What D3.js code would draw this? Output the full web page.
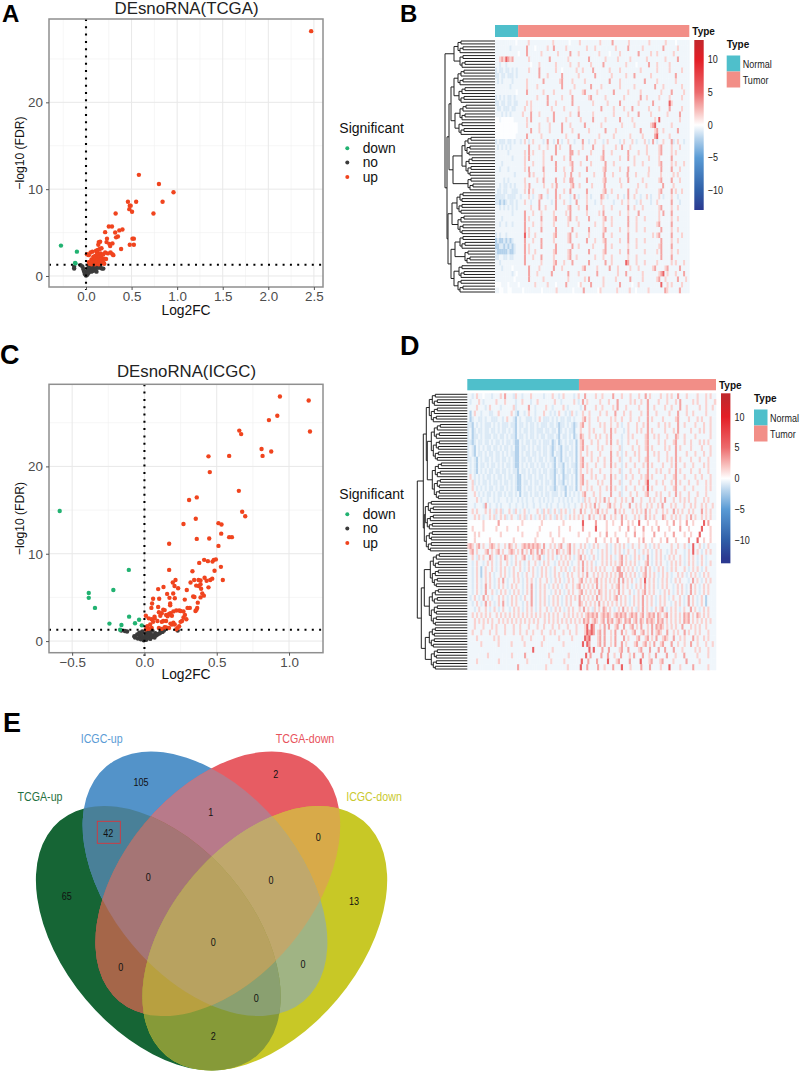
<!DOCTYPE html>
<html><head><meta charset="utf-8">
<script src="https://cdn.jsdelivr.net/npm/d3@7"></script>
<style>html,body{margin:0;padding:0;background:#fff}svg{display:block}text{font-family:"Liberation Sans",Arial,sans-serif}</style>
</head><body><svg id="c" width="800" height="1072"></svg>
<script>
// ---------- volcano data (Log2FC, -log10 FDR)
const tcgaDown=[[-.275,3.5],[-.1,2.8],[-.12,1.5],[-.115,1.45]];
const tcgaNo=[[-.13,1.05],[-.13,.85],[-.06,1.25],[-.04,1.1],[-.03,.8],[-.02,.55],[-.015,.35],[-.01,.2],[0,.05],[0,.15],[.005,.3],[.01,.1],[.015,.45],[.02,.25],[.02,.65],[.025,.9],[.03,.4],[.03,1.15],[.035,.75],[.04,.55],[.04,1.0],[.05,.7],[.05,1.25],[.055,.9],[.06,.5],[.065,1.1],[.07,.8],[.075,1.25],[.08,.6],[.085,1.0],[.09,.9],[.095,1.2],[.1,.75],[.105,1.05],[.115,.5],[.12,1.2],[.13,.95],[.14,1.05],[.15,1.2],[.16,.95],[.175,.85],[.19,.85]];
const tcgaUp=[[2.47,28.2],[.58,11.65],[.8,10.6],[.96,9.65],[.46,8.55],[.55,8.55],[.84,8.55],[.48,8.1],[.49,8.1],[.475,7.7],[.505,7.4],[.325,7.2],[.74,7.2],[.25,5.7],[.285,5.7],[.21,5.05],[.32,5],[.365,5.25],[.4,5.35],[.33,4.45],[.35,4.55],[.23,4.3],[.51,4.3],[.525,4.3],[.14,3.9],[.155,3.95],[.225,3.9],[.255,3.7],[.29,3.75],[.265,3.45],[.135,3.6],[.385,3.1],[.48,3.6],[.525,3.6],[.01,2.5],[.03,2.4],[.05,2.7],[.07,2.8],[.11,2.9],[.12,2.7],[.13,3],[.15,3.1],[.17,3.2],[.08,2.2],[.1,2.3],[.12,2.4],[.14,2.5],[.16,2.6],[.13,2.1],[.15,2.2],[.17,2.3],[.19,2.5],[.21,2.7],[.24,2.6],[.27,2.7],[.29,2.5],[.3,2.4],[.06,1.9],[.08,1.8],[.1,1.95],[.12,1.85],[.14,1.9],[.16,1.8],[.18,1.9],[.2,2],[.22,1.95],[.03,1.6],[.05,1.55],[.07,1.6],[.09,1.5],[.11,1.55],[.13,1.5],[.15,1.6],[.17,1.45],[.19,1.6],[.2,1.4],[.04,1.4],[.06,1.35],[.1,1.35],[.14,1.35]];
const icgcDown=[[-.586,14.9],[-.108,8.15],[-.215,5.85],[-.385,5.5],[-.385,4.95],[-.342,3.8],[-.106,2.8],[-.037,2.45],[-.065,2.05],[-.242,2],[-.159,1.85],[-.018,1.8],[-.168,1.3]];
const icgcNo=[[-.16,1.2],[-.135,1.15],[-.12,1.1],[-.07,.55],[-.065,.4],[-.05,.75],[-.045,.3],[-.035,.95],[-.03,.55],[-.025,.2],[-.02,.7],[-.015,1.1],[-.01,.4],[-.005,.1],[0,.25],[.005,.55],[.01,.9],[.012,.15],[.02,.35],[.02,1.2],[.025,.7],[.03,.5],[.035,1.05],[.04,.25],[.045,.8],[.05,.45],[.055,1.2],[.06,.6],[.07,.4],[.075,.9],[.08,.65],[.09,.75],[.1,.85],[.11,.95],[.115,1.15],[.125,1.05],[.135,1.2],[.23,1.2]];
const icgcUp=[[.937,28],[1.136,27.55],[.919,25.8],[.861,25.3],[1.145,24],[.656,24.1],[.669,23.7],[.81,22],[.877,21.7],[.817,21.2],[.443,21.15],[.586,21.2],[.452,19.35],[.653,17.2],[.362,16.45],[.309,16.15],[.676,14.8],[.697,14.3],[.355,14],[.27,13.4],[.512,13.5],[.533,13.35],[.531,12.3],[.362,11.7],[.448,11.75],[.586,11.9],[.605,11.9],[.171,11.15],[.512,10.9],[.413,9.3],[.439,9.15],[.471,9.1],[.48,9.3],[.494,9.35],[.379,8.95],[.529,8.5],[.485,8.05],[.332,8],[.171,8.15],[.542,7],[.469,7.15],[.455,7],[.416,7.25],[.43,6.9],[.374,7],[.388,6.95],[.344,7],[.319,6.7],[.215,7],[.196,6.7],[.208,6.3],[.233,6.05],[.358,6.35],[.376,6.3],[.388,6.5],[.443,6.15],[.392,6],[.132,6.2],[.095,5.95],[.293,5.85],[.199,5.45],[.157,5.4],[.4,5.45],[.411,5.2],[.388,5],[.337,5.1],[.346,5.05],[.06,4.85],[.102,4.85],[.173,4.95],[.21,4.9],[.279,4.75],[.369,4.4],[.053,4.3],[.178,4.3],[.178,4.1],[.048,3.8],[.095,3.9],[.298,3.8],[.314,3.8],[.365,3.8],[.353,3.45],[.36,3.6],[.01,2.9],[.03,2.6],[.05,2.5],[.07,2.8],[.07,2.6],[.1,3.3],[.09,2.3],[.11,2.9],[.12,3.2],[.13,3.6],[.14,3.55],[.15,3],[.16,2.85],[.17,3.1],[.18,3.2],[.19,2.9],[.2,3.4],[.22,3.5],[.24,3.5],[.25,3.45],[.27,3.4],[.28,3],[.27,2.7],[.29,2.5],[.25,2.2],[.26,2.3],[.12,2.2],[.13,2.3],[.15,2.3],[.18,2],[.19,1.9],[.2,2.1],[.21,1.9],[.24,1.7],[.23,1.5],[.22,1.35],[.1,1.5],[.12,1.4],[.14,1.6],[.15,1.55],[.17,1.5],[.04,1.9],[.02,1.7],[.03,1.4],[.05,1.5],[.06,2.2],[.01,1.35]];
const sigLevels=["down","no","up"];
const sigColors=["#21b271","#3b3b3b","#f0441e"];
const fdrCut=1.3;

// ---------- heatmaps: levels read by eye, one character per cell
const levelKeys=["=","-",".","o","+","*","#"];
const levelVals=[-2.1,-.95,-.4,-.05,1.5,3,5.5];
const heatB=[
"..........o.....+...........+.......o....+.........+.....*.......+.........+.......+....o......",
".......-.......*...o.....+..*.....+.........+...+.........+.....*......+.........*......+.....",
"...........o...*......+.......+.....*...+.........+....o....+........*.....+..+.......+.......",
"..+*+#*+*.......+.........*........+.........*.......+.....+.....+.......+........+.....*.....",
"..-..-...........o...+.......+......+...+.....+.....*..........+....o.....*...+.....+.........",
"-.--.--.-.-.....+....*.......+..o......+..+....*.......+....+.........+.......+.....+.....+...",
"--.--.---.-..........*...+......*.......+.......*.......+......+...*.......+...........*......",
".-.-....-......+.......*.......+*....+.....+...........*....+...........*.....+........+......",
".......-.......+....+...........*.....+.......*....+........+......+.........*...+........+...",
"..........o....*.......+....+.......+.....+*.....+.......*......+.....+.........+....*.....+..",
"-.-.-.--.-..........+....*......+....*.......+*......+........+.......*..+.....+....+.....+...",
"--.--.--.--....+.+.......*...+.......*.........+......+.....*........+......*.......#+........",
".--.---.--....+..+.........+.....+......+..........*.....+....+...*.......+....+....*.....+...",
"...-.-.-.....+...*...+......*.......+...*......+.........+......+....*.....+.......+.....*....",
"oo.oooooo......+.*.......+..*.....+......+.....*.....+......*.....+..........+.#.........+....",
"ooooooooooo....+.....+....+.....*...+......*.......+.........+.....+.......+*#.......+........",
"ooooooooooo......*...+....+.....*....+.......+.......*....+...........*......+*..+......*.....",
"oooooooooo.....*......+...........+.....*.........+......+.......+.....+.....*#.....+.........",
"-.---.--.-..-.+.-.+....-.*..-.*.-..+..-...*..-..+...-.+.....-.+...+.-...+.-.*.-..+...*-.+..-..",
".-.-.-.-........*....+...+...*.+....*.....+....*....+.....+..*...+.......+.....+*....+...+....",
"......-.......+.*.+....+.....*......**..+.....+.....*...+.......*....+...+.....+*....+.+......",
"........-.....+.*......+...*.....+..*.......*......+*.......+...*..+......+....+.....*........",
"...-..........+...+....+.....*......+*...+....+......*...+.........+...+.......+*....+.+...+..",
"..-...-.......+.*......*.....*...+...*......*.......+*......+...*.........+.....*....*...+....",
".........-......*.+....+.........+..*...+......+....*...+......*...+.....+.....+.....+.+.....",
"....-.-.......+.....+..*.....*...+..**......*.......+*......+...*......+.......+*....*...+....",
"..-.--.-.-....+.*......+...+.*......+*..+.....+.....*.......+.......+...+.......*....+.......",
".--.--..---...+.*.+......+...*...+..*.......*.......+*..+.......*...+..........+*....*.+..+...",
"-----.----..-...+.-..+*..-...*.+....-.*.-...+.-....*+.-....+..-.*..+..-..+.-...+.-...+..-.....",
"--=-=-.--.-...+..-...*.....-.*...+..-..*....+...-..+.....-...+..+...-.+....-..+......*...-....",
"..-.-.-.-.-......+...*..+....*.....+*...+...*.......+...+.......*..+...+.......+*....+..+.....",
"........-.....*...+...+.....+.....+.*.......+.....+.*.......+...+....*.........+.*...*........",
"...-..........*.+.....*.....+*.....+*..+.....*......+*..+.......*...+...+......+.....+..+.....",
"..-..-..-.....*...+...+.....+......+....+.......+...+...+.......*...+.........+*.....*........",
"..............*.+.....*......*.......*.......*......+*......+...+...+...+.......*....+..+.....",
"-.-..-........#.+..+........+*.....+*..+.....+......*...+.......*...........+.+*.....*....+...",
"=-==-=-=-.....*...+...*.....+......+*.......*...+...+*......+...*...+...+.......*....+..+.....",
"==--=-=-=-....*.+.....*......*.......*..+......+.....*..+.......+...+..........+*....*........",
"-=====-==-....*.+..+........+*.....+*........*......+*......+...*.......+.....+.*....+..+.....",
"--..--.--.....*...+...*.....+......+*..+........+...+...+.......+...+...........*....*........",
"..-...........*.......+.....+*...+...*.......*.......*..+......#*...+...+.....+......+.+...+..",
"...-....o.......*....+......*...+.........+*.....+.....*...+.....+...+......+*....+*.....*....",
"........-.o.....*...+......*.......*....+........*.........+...*.......+.......+*#.+...+...*..",
".........o......*......+...........+.......+.*......+.....+......*.....+......+*..+.....*...+.",
"ooo...o....o.......+.....+...o....*.....o+....*.....+.......*.....o..+..........#..+.+....+...",
"..oo..oo.....o........o......+.......o....*......o+.......+.....+..o.....+.......*+.....*...."
];
const heatD=[
"..-.+..o...-...+.*...-+..-...+.....-...+..-.+....-.+..*....+..+....*...+...+...+..*.+....+..+.+..*...+....+...+.+..",
".-...+.-.....+...+....-..+...-..+.......+..-.....+.-.*.+.....+...+...*.....+.+..+..*....+...+...+.*.....+.+...+...+",
"....+...-.+....-.....+-.....*..-....+..-....+.-.....-.*....+..+....+.*...+.....+...*..+....+..+...*..+.....+..+..+.",
".=.+..-...--..+.....+.-=..-.+..-...+..-.-.+..-.-+.-..+..+....+..+...*...+..+....+..*...+.....+...*...+..+.....+....",
".=-..--.-..---..-.+..-=.-..---.-.+.---.-.-.--.--.-...+*.+...+.....+.+..+...+...+...*.+....+.....+*....+...+.+...+..",
"--=.-.-.---.-.-.---.--=.--.-.--.-.---.--.-=--.-.-=-.+*..+....+.+..+..+.-..+...+..+.*....+..+.+...*..+....+...+..+..",
"-.=-.--.--.--.-.--.-.-=.-.--.--.---.--.--.=-.-.--=..+...+.+....+..*.+...-.+...+.+..*.+.....+...+.*.....+...+.+..+..",
"-.=--.-.---.--.--.-.--=.--.-.--.-.--.---.-=.--.-.=-.*+..+..+.+..+.*....-..+.+.....+*..+.+...+...*+..+....+......+..",
"--=-.--.--.-.--.-.--.-==.-.--.--.-.---.=-.=-.-.--.=.+*...+..+...+.*..+.-..+...+...+*....+..+...+*...+..+...+.+.+...",
"-.-=.-.-.--.--.-.--.-.==.--.-.-.--.--.-=-.-=.--.-.=.+*.+....+.+...+...+-....+..+..+*.+.....+.+..*.+....+....+...+..",
"-.-=.--.-.--.--.-.-.--==.-.--.--.-.--.-=.--=.-.--.=.+..+.+...+....*..+.-.+...+.+...*..+.+...+...*....+...+...+..+..",
"--.-=.-.--.-.--.--.-.-==.--.--.-.--.-.--=.-=.--.-.=.+*...+..+..+..*...+-...+...+..+*....+...+.+.*.+....+...+...+...",
".-.-=.--.-.--.-.-.--.-==.-.-.--.-.--.-.-=.--=.-.--=.+*.+...+...+..*.+..-.+...+...+.*.+....+...+.*...+...+....+.+...",
".-.-=.-.-.--.--.--.-.--=.--.-.--.-.--.--=-.-=.--.-=.+..+.+...+....+...+-...+...+...*...+.+...+..*.+....+...+...+...",
".+.-.-.-.--.-.--.-.--.-==.-.--.-.--.-.--=.-.=--.-.=.+*...+.+...+..*.+..-.+..+...+.+*.+.....+...+*...+....+..+...+..",
"..+-.-.--.-.--.-.--.-.-==.--.-.--.-.--.-=.--=.-.-.=.+*.+....+.+...*...+-...+...+..+#...+..+...+.*.+...+...+...+.+..",
"..+.-.-.-.--.-.--.-.-.-==.-.--.-.--.-.--=-.--=.--.=.+..+.+...+..+.*.+..-.+...+...+.#.+.....+...+*...+...+.....+.+..",
"...+.-.-.--.-.--.-.--.-.=.--.-.--.-.--.---.-.=.-.-.-.+*...+..+....*...+-...+..+...+*...+.+...+..*.+...+...+...+....",
"....+.-..-..-.-...-.-..-.-.-..-..-.-.-.-..-.-.-.-..-.-+.+..+.+.*.+..+..+.+..*...+...+.+..+.*...+..+.+.+..+...+.+...",
"...-...-*.-..-.-...-..-..-.-..-..-..-.-..-..-.-..-..+.+.+.*.+...+*.+..+...*..+.+..+.+..+.*...+.+...+..+.+..+.+..+.",
"..+.+...+.+.-+.+-..+.-+.-.+.-...+.-+.+-.+.-+.+.-.+..*.+..+.+*.+.+...*.+.+...+.+.+.*.+..+..+.+..*.+.+..+.+...*.+.+..",
"...+.+.-..+.+-.+.+-.+..-+.+-.+.-.+.+-.+.-+.+.-.+.+.+.+..*.+..+.*..+.+..*.+...+.+..*.+.+...*+..+.+.+..+.*.+..+.+.+..",
"ooooooo+oooooo*oooooooooo+oooooooo+ooooooooo+oooooooo#ooooo*oooo+oo+ooo*oo+o+oo#ooo+ooo+oooo+oo*oo+oo*oo+oooo#o*ooo",
"oo+oooo+ooooo+oooo+oooo+ooooooooo+oooooooo+oooo+ooooo*ooooo#oooo+ooooo+ooo*oo+ooo*ooo+oo*oooo+oooo*ooo+ooooo#ooo+oo",
"ooo+o+ooooooooo+ooooooooo+oooooo+ooooo+ooo+oooooooo+oooo+oooo+oo*ooo+oooo+ooo*ooo+oooo*oooo+ooo*oooo+oo+ooo#oooo+oo",
"ooo+oooooo+oooooooooo+ooooooooo+ooooooo+oooo+oooooooooo+ooo*ooo+oo+oo*oooo+oooo+o*ooo+ooo+oo*ooo+ooooo*ooo#oo+oo+oo",
"+*+.+*.+..+*+.+..+.*+.+..+*+*+*+*+.*..+.+.+*..+*.+..+.+.-.+.+...+.-.+.+.+.-.+..+..+.-.+.+.....+..+..+.-.#..+.-.+...",
".+*.+...+*.+.+*.+..+*+.+.*.+.*+.*.*+.+.+.*+.+.+*.+.+.+.-.+..-.+.+.-.+.+.-.+..+.-.+.+.-.+.+..-.+.+...-.+.#.+.-.+.+..",
"..+.-+.+..*+.-.+.*+.-.+..+*.-.+.+*.-.+.+.-.+.+.+.-.+*.+.-.+.-.+.+.+.-.+*.+.-.+.+.-.*.-.+.+.-.+.+..+.-.+.+.-.+.-....",
"..-.+..-.+.+.-.+..+.-.+.+.-.+..+.-.+.+..-.+.+.+.-..+.*.+.+.-..+.+.+.+.+*.+.+.+.-..+*.-.+.+..-.+.+.+.-.+.+.-.+.-.+..",
"..-.+.=.+..+.-.+.+.-.+..+.-.+.+.-.+.+.-.+..+.+.-.+.+.*.+.+.+.+.+...+.**.+.+.+.-.+.*.+.-.+.+.-.+.+...+.-.+.+.-.+....",
"..-.+.=.+.+.-..+.+.-.+.+.-.+..+.-.+.+.-.+.+.-.+.+..+.+.*..+.+.+.+.+.+.**.+.+.+.-.+*.+.+.-.+.+.-..+.+.-.+.+.-.+.+...",
"..-.+.-.+.+.-.+.*.-..+.+.-.+.+.-.+..+.-.+.+.-.+.+..+*.+.+.+*.+.+.+.+.*.*.+.+.-.+.#.+.+.-.+.+.-.+.+...-.*.+.-.+.+..",
"..-.+.-.*.+.-.+.+.-.+.+..-.+.*.-.+.+.-.+.+.-.+..+.+*.+.+.+.*.+.+..+.+*.+.+.-.+.+.*.+.+.-.+.+..-.+.+.-.*.+.-.+.+...",
"..-.+.-.*..+.-.+.+.-.+.+.-.+.*.-.+.+..-.+.+.-.+.+..+*.+.+.+.*+.+.+.+.*.+..+.-.+.+*.+.+..-.+.+.-.+.+.-.*.+.-.+.+...",
".-.+.-.*.+.-..+.+.-.+.+.-.+..*.-.+.+.-.+.+.-.+.+.+.*.+.+.+.*.+.+.+.+*.+.+.-.+.+.*.+.+.-.+.+.-.+..+.-.*.+.-.+.=....",
"..-.+.-.*.+.-.+.*.-.+.+..-.+.*.-.+.+.-.+.+.-.+.+...*+.+.+.+.*.+.+.+.+.+.+.-.+.+.*.+.+.-.+.+..-.+.+.-.*.+.-.+.=....",
"...-.+..+.-.+.-.+..-.+.+.-.+.+.-.+..+.-.+.+.-.+.+..+.*.+.-+.+.*+.+.-.+.*.+.+.-+.*.+.-.+.+*.-.+.+.-.+..*.+.-.+.+...",
"..+.+.+.+.+..+.+.+.+.+.+.+.+.+.+.+.+.+.+.+..+.+.+.+.+.+*+*+*.+*+*+.+*+*+*.+*+*.+*.+*+*.*+.+*.+.+.+.*+*.+.*+.+.+...",
"...+.+.+.+.+..+.+.+.+.+.+.+.+.+.+..+.+.+.+.+.+.+.+.+.*+*.+*+.+*.*+*.+*+.*+*.+*.*+.*+*+.*+*.+.+.+.+.*+*.+.+.+.+.+..",
"...+...+...+.+...+...+..+...+...+..+...+..+...+...+...+#.#*..+.*.*..+*..*..+*.+.*..+.*.*+*+.+.+.+..*...+.+.+..+....",
"..+...+...+..+...+...+..+..+..+...+...+.+...+..+..+...+#*#*.+*.*..+.*..*.+..+*..+*.+.*.+*+..*..+.+..*.+..+.+...+...",
"....+.......+.+..........+...+.....+......+.....+.....#*#...+*.*..+.*...*.+...+*..+*.+.*..+*+..*..+.+...*.+..+.+...",
"......+.......+.....+.....+.......+.........+........#.#*...+*.*..+.*..*.+...+*..+*.+.*..+*...*..+..+..*..+...+..+.",
"..............................#........+................#.#...*..*....+*..*....+*...*...*..*...*...+.....+.+...+...",
".........+..........+.....*..........+........+.......#.*....*..*..+..*...+.*...*..+..*....*...+...*.....+....+...",
"....+.........+............+..........+.....+.......#..*...*....#...+*....*....#...+*...+*....+.....*.....+.......",
".......................*............+.........+.....#..*....*..+...*...#...+....*...*....+...#....+.....*......+..."
];
const heatTicks=[-10,-5,0,5,10];
const heatStops=[[-13,"#2b3990"],[-10,"#2f5fa8"],[-5,"#5a9bd5"],[-2,"#b6d3ec"],[0,"#ffffff"],[2,"#f8c3c0"],[5,"#ec6a6c"],[10,"#e31e26"],[13,"#c2282c"]];
const typeNames=["Normal","Tumor"];
const typeColors=["#4fbfcb","#f28e87"];
// dendrogram structure: [height, children…] or [height, leaf count]
const treeB=[50,[41,[37,5],[35,5]],[48,[46,[44,[41,[37,6],[36,6]],[40,[35,6],[36,5]]],[42,[33,[30,7],[29,7]],[27,5]]],[47,[43,[38,8],[37,7]],[44,[40,[35,5],[30,5]],[41,[36,5],[37,5]]]]]];
const treeD=[50,[44,[41,[38,11],[40,[36,14],[35,14]]],[43,[42,11],[41,8]]],[47,[46,[43,[37,13],[38,14]],[42,[38,8],[36,8]]]]];

// ---------- venn
const vennSets=["TCGA-up","ICGC-up","TCGA-down","ICGC-down"];
const vennLabelColors=["#1f7040","#5b9bd5","#e8525c","#c9c92e"];
const vennRegions=[["0",'#136534'],["1",'#5393c9'],["2",'#e75c64'],["3",'#c8c828'],["01",'#4a8098'],["12",'#b87a8a'],["02",'#a5664a'],["23",'#d8aa48'],["13",'#a0b484'],["03",'#869a38'],["012",'#a57574'],["123",'#c0a86c'],["013",'#8aa070'],["023",'#b8a040'],["0123",'#b8a260']];
const vennCounts=[["65",66.7,895.7],["105",141,782],["42",108.3,832.7],["2",275.7,774],["1",210.7,812.3],["0",318.3,836.7],["13",354,901],["0",148.3,876.7],["0",271,880],["0",213.3,942],["0",120.7,967.3],["0",303,964],["0",256.3,997.7],["2",213.3,1036]];

const svg=d3.select("#c");
const defs=svg.append("defs");
const addBlur=(id,s)=>defs.append("filter").attr("id",id).attr("x","-2%").attr("y","-2%").attr("width","104%").attr("height","104%").append("feGaussianBlur").attr("stdDeviation",s);
addBlur("soft",.45);addBlur("softer",.38);
const narrow=(sel,fx,fy)=>sel.attr("transform",(d,i)=>`translate(${fx(d,i)},${fy(d,i)}) scale(.82,1)`);

function volcano(c){
  const x=d3.scaleLinear().domain(c.xd).range([49,323]);
  const y=d3.scaleLinear().domain(c.yd).range([c.bottom,c.top]);
  const g=svg.append("g");
  g.selectAll(".mx").data(c.xMinor).join("line").attr("x1",x).attr("x2",x).attr("y1",c.top).attr("y2",c.bottom).attr("stroke","#f0f0f0").attr("stroke-width",.6);
  g.selectAll(".my").data(c.yMinor).join("line").attr("y1",y).attr("y2",y).attr("x1",49).attr("x2",323).attr("stroke","#f0f0f0").attr("stroke-width",.6);
  g.selectAll(".gx").data(c.xTicks).join("line").attr("x1",x).attr("x2",x).attr("y1",c.top).attr("y2",c.bottom).attr("stroke","#e8e8e8").attr("stroke-width",1);
  g.selectAll(".gy").data([0,10,20]).join("line").attr("y1",y).attr("y2",y).attr("x1",49).attr("x2",323).attr("stroke","#e8e8e8").attr("stroke-width",1);
  [c.no,c.up,c.down].forEach((pts,i)=>{
    const col=[sigColors[1],sigColors[2],sigColors[0]][i];
    g.append("g").selectAll("circle").data(pts).join("circle").attr("cx",d=>x(d[0])).attr("cy",d=>y(d[1])).attr("r",2.2).attr("fill",col);
  });
  g.append("line").attr("x1",x(0)).attr("x2",x(0)).attr("y1",c.top).attr("y2",c.bottom+3).attr("stroke","#000").attr("stroke-width",2.1).attr("stroke-dasharray","2 5.3");
  g.append("line").attr("x1",49).attr("x2",323).attr("y1",y(fdrCut)).attr("y2",y(fdrCut)).attr("stroke","#000").attr("stroke-width",2.1).attr("stroke-dasharray","2 5.3");
  g.append("rect").attr("x",49).attr("y",c.top).attr("width",274).attr("height",c.bottom-c.top).attr("fill","none").attr("stroke","#8f8f8f").attr("stroke-width",1.5);
  const ax=g.append("g").attr("transform",`translate(0,${c.bottom})`).call(d3.axisBottom(x).tickValues(c.xTicks).tickFormat(d3.format(".1f")).tickSize(3).tickPadding(1.5));
  const ay=g.append("g").attr("transform","translate(49,0)").call(d3.axisLeft(y).tickValues([0,10,20]).tickSize(3).tickPadding(3));
  [ax,ay].forEach(a=>{a.select(".domain").remove();a.selectAll("line").attr("stroke","#555");a.selectAll("text").attr("fill","#4d4d4d").attr("font-size",13.4).attr("font-family",'"Liberation Sans",Arial,sans-serif');});
  g.append("text").attr("x",186).attr("y",c.bottom+c.xlabOff).attr("text-anchor","middle").attr("font-size",13.8).attr("fill","#111").text("Log2FC");
  g.append("text").attr("transform",`translate(24,${(c.top+c.bottom)/2})  rotate(-90)`).attr("text-anchor","middle").attr("font-size",13).attr("textLength",73).attr("lengthAdjust","spacingAndGlyphs").attr("fill","#111").text("−log10 (FDR)");
  g.append("text").attr("x",186.5).attr("y",c.titleY).attr("text-anchor","middle").attr("font-size",15.8).attr("textLength",c.titleW).attr("lengthAdjust","spacingAndGlyphs").attr("fill","#222").text(c.title);
  g.append("text").attr("x",339.3).attr("y",c.legendY).attr("font-size",14).attr("fill","#111").text("Significant");
  sigLevels.forEach((s,i)=>{
    const yy=c.legendY+15.3+i*14.3;
    g.append("circle").attr("cx",347.3).attr("cy",yy).attr("r",2).attr("fill",sigColors[i]);
    g.append("text").attr("x",362.7).attr("y",yy+4.6).attr("font-size",13.8).attr("fill","#111").text(s);
  });
}
volcano({xd:[-.406,2.6],yd:[-1.27,29.6],top:19,bottom:287,xlabOff:27.5,xTicks:[0,.5,1,1.5,2,2.5],xMinor:[-.25,.25,.75,1.25,1.75,2.25],yMinor:[5,15,25],no:tcgaNo,up:tcgaUp,down:tcgaDown,title:"DEsnoRNA(TCGA)",titleY:13.5,titleW:144,legendY:133});
volcano({xd:[-.66,1.235],yd:[-1.33,29.4],top:384.3,bottom:652.7,xlabOff:26,xTicks:[-.5,0,.5,1],xMinor:[-.25,.25,.75],yMinor:[5,15,25],no:icgcNo,up:icgcUp,down:icgcDown,title:"DEsnoRNA(ICGC)",titleY:377,titleW:139,legendY:499});

function expand(s){
  if(typeof s[1]==="number"){
    const n=s[1];
    if(n===1) return {h:0};
    const a=Math.ceil(n*.4);
    return {h:s[0],children:[expand(a===1?[0,1]:[s[0]-3,a]),expand(n-a===1?[0,1]:[s[0]-2,n-a])]};
  }
  return {h:s[0],children:s.slice(1).map(expand)};
}
function heatmap(c){
  const g=svg.append("g");
  const typeX=d3.scaleLinear().domain([0,1]).range([c.x0,c.x1]);
  g.selectAll(".ann").data([[0,c.split],[c.split,1]]).join("rect").attr("x",d=>typeX(d[0])).attr("width",d=>typeX(d[1])-typeX(d[0])).attr("y",c.annY).attr("height",c.annH).attr("fill",(d,i)=>typeColors[i]);
  g.append("text").attr("x",c.x1+3).attr("y",c.annY+10).attr("font-size",10).attr("font-weight","bold").attr("fill","#111").text("Type");
  const by=d3.scaleBand().domain(d3.range(c.rows.length)).range([c.y0,c.y1]);
  const color=d3.scaleLinear().domain(heatStops.map(d=>d[0])).range(heatStops.map(d=>d[1])).clamp(true);
  const lev=d3.scaleOrdinal().domain(levelKeys).range(levelVals);
  const cells=[];
  c.rows.forEach((r,i)=>{
    const bx=d3.scaleBand().domain(d3.range(r.length)).range([c.x0,c.x1]);
    r.split("").forEach((ch,j)=>cells.push({i,x:bx(j),w:bx.bandwidth(),v:lev(ch)}));
  });
  const hg=g.append("g").attr("filter","url(#softer)");
  hg.append("g").selectAll("rect").data(cells).join("rect").attr("x",d=>d.x).attr("y",d=>by(d.i)).attr("width",d=>d.w+.3).attr("height",by.bandwidth()+.3).attr("fill",d=>color(d.v));
  const root=d3.hierarchy(expand(c.tree));
  const leaves=root.leaves();
  const ly=d3.scalePoint().domain(d3.range(leaves.length)).range([c.y0+1,c.y1-1]);
  leaves.forEach((l,i)=>l.py=ly(i));
  root.eachAfter(n=>{if(n.children)n.py=d3.mean(n.children,k=>k.py);});
  const hx=d3.scaleLinear().domain([0,50]).range([c.x0,c.x0-50]);
  const p=d3.path();
  root.each(n=>{if(!n.children)return;
    const f=n.children[0],l=n.children[n.children.length-1];
    p.moveTo(hx(n.data.h),f.py);p.lineTo(hx(n.data.h),l.py);
    n.children.forEach(k=>{p.moveTo(hx(n.data.h),k.py);p.lineTo(hx(k.data.h),k.py);});
  });
  g.append("path").attr("d",p.toString()).attr("fill","none").attr("stroke","#222").attr("stroke-width",1);
  const barY=d3.scaleLinear().domain([c.barMax,-c.barMax]).range([c.y0,c.barBottom]);
  const gid="grad"+c.id;
  const lg=defs.append("linearGradient").attr("id",gid).attr("x1",0).attr("x2",0).attr("y1",0).attr("y2",1);
  heatStops.slice().reverse().forEach(s=>lg.append("stop").attr("offset",(barY(s[0])-c.y0)/(c.barBottom-c.y0)).attr("stop-color",s[1]));
  g.append("rect").attr("x",c.x1+5).attr("y",c.y0).attr("width",9.4).attr("height",c.barBottom-c.y0).attr("fill",`url(#${gid})`);
  narrow(g.selectAll(".tl").data(heatTicks).join("text").attr("font-size",11).attr("fill","#222").text(d=>d3.format("d")(d)),()=>c.x1+18.5,d=>barY(d)+3.8);
  g.append("text").attr("x",c.lx).attr("y",c.ly).attr("font-size",10).attr("font-weight","bold").attr("fill","#111").text("Type");
  typeNames.forEach((t,i)=>{
    g.append("rect").attr("x",c.lx).attr("y",c.ly+7.5+i*16).attr("width",13.5).attr("height",16).attr("fill",typeColors[i]);
    narrow(g.append("text").attr("font-size",11).attr("fill","#222").text(t),()=>c.lx+16,()=>c.ly+20+i*16);
  });
}
heatmap({id:"B",rows:heatB,tree:treeB,x0:495,x1:689.3,y0:40,y1:293,annY:25,annH:12,split:.119,barMax:13,barBottom:210,lx:726.7,ly:48});
heatmap({id:"D",rows:heatD,tree:treeD,x0:467.3,x1:716,y0:393.3,y1:670,annY:379,annH:11.3,split:.449,barMax:13.8,barBottom:563.3,lx:754,ly:402});

const ellipses=[[158.3,938.3,153.3,94.8,50],[205,883.8,153.3,94.8,50],[217.8,883.8,153.3,94.8,-50],[264.8,938.3,153.3,94.8,-50]];
const vg=svg.append("g").attr("filter","url(#soft)");
const ell=(s,e)=>s.attr("cx",e[0]).attr("cy",e[1]).attr("rx",e[2]).attr("ry",e[3]).attr("transform",`rotate(${e[4]} ${e[0]} ${e[1]})`);
vennRegions.forEach(([key,col],ri)=>{
  const idx=key.split("").map(Number);
  let prev=null;
  idx.slice(1).forEach((k,m)=>{
    const id=`v${ri}_${m}`;
    const cp=defs.append("clipPath").attr("id",id);
    if(prev)cp.attr("clip-path",`url(#${prev})`);
    ell(cp.append("ellipse"),ellipses[k]);
    prev=id;
  });
  ell(vg.append("g").attr("clip-path",prev?`url(#${prev})`:null).append("ellipse"),ellipses[idx[0]]).attr("fill",col);
});
svg.append("rect").attr("x",97.3).attr("y",821.3).attr("width",23).attr("height",22).attr("fill","none").attr("stroke","#d8363c").attr("stroke-width",.9);
narrow(svg.selectAll(".vc").data(vennCounts).join("text").attr("text-anchor","middle").attr("font-size",11).attr("fill","#111").text(d=>d[0]),d=>d[1],d=>d[2]+3.8);
const vennLabelPos=[[40,796.7],[101.7,738.3],[305,738.3],[374,796.7]];
vennSets.forEach((s,i)=>narrow(svg.append("text").attr("text-anchor","middle").attr("font-size",13).attr("fill",vennLabelColors[i]).text(s),()=>vennLabelPos[i][0],()=>vennLabelPos[i][1]+4.5));

const panelLetters=[["A",2,21.7,24],["B",400,21.7,24],["C",0,364,27],["D",400,355,27],["E",3,731.7,27]];
svg.selectAll(".pl").data(panelLetters).join("text").attr("x",d=>d[1]).attr("y",d=>d[2]).attr("font-size",d=>d[3]).attr("font-weight","bold").attr("fill","#000").text(d=>d[0]);
</script></body></html>
